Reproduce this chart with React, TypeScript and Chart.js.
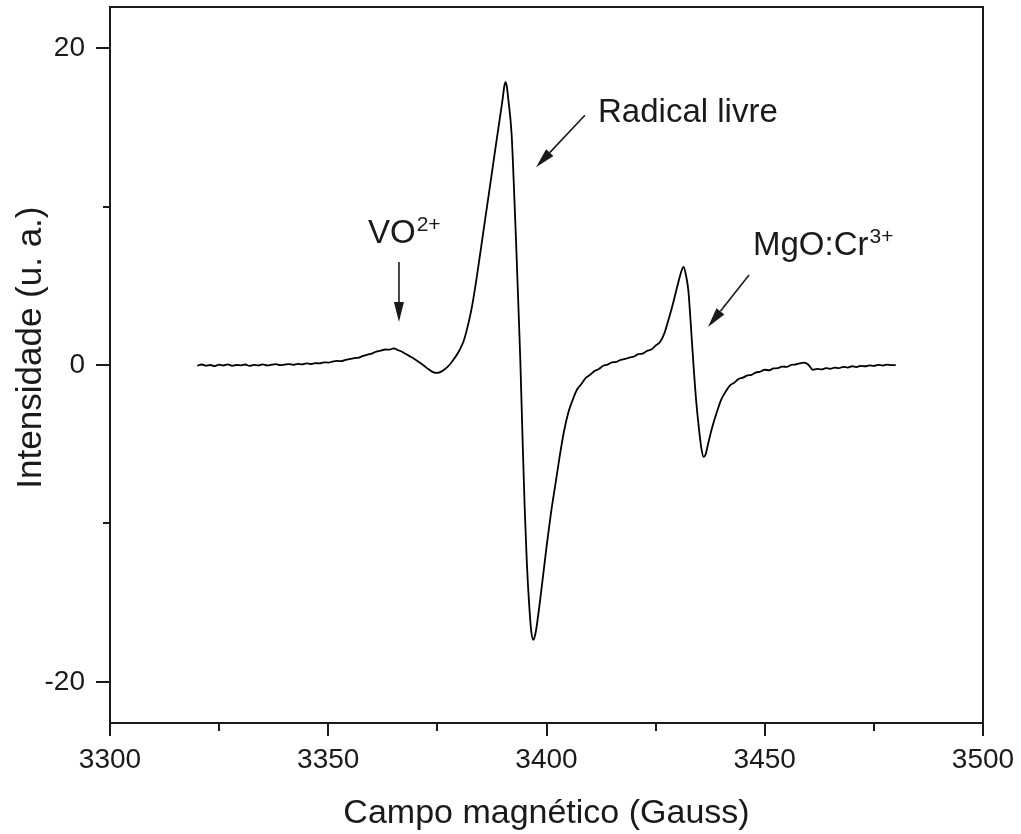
import React, { useEffect, useRef } from "react";
import { Chart, registerables } from "chart.js";

Chart.register(...registerables);

// Magnetic field (Gauss)
const fieldGauss: number[] = [
  3320, 3321, 3322, 3323, 3324, 3325, 3326, 3327, 3328, 3329,
  3330, 3331, 3332, 3333, 3334, 3335, 3336, 3337, 3338, 3339,
  3340, 3341, 3342, 3343, 3344, 3345, 3346, 3347, 3348, 3349,
  3350, 3351, 3352, 3353, 3354, 3355, 3356, 3357, 3358, 3359,
  3360, 3361, 3362, 3363, 3364, 3365, 3366, 3367, 3368, 3369,
  3370, 3371, 3372, 3373, 3374, 3375, 3376, 3377, 3378, 3379,
  3380, 3381, 3382, 3383, 3384, 3385, 3386, 3387, 3388, 3389,
  3390, 3390.3, 3390.6, 3390.9, 3391.2, 3392, 3392.5, 3393, 3393.5, 3394,
  3394.5, 3395, 3395.5, 3396, 3396.5, 3397, 3397.5, 3398, 3399, 3400,
  3401, 3402, 3403, 3404, 3405, 3406, 3407, 3408, 3409, 3410,
  3411, 3412, 3413, 3414, 3415, 3416, 3417, 3418, 3419, 3420,
  3421, 3422, 3423, 3424, 3425, 3426, 3427, 3428, 3429, 3430,
  3431, 3431.4, 3432, 3432.5, 3433, 3433.7, 3434.3, 3435, 3435.5, 3436,
  3436.5, 3437, 3438, 3439, 3440, 3441, 3442, 3443, 3444, 3445,
  3446, 3447, 3448, 3449, 3450, 3451, 3452, 3453, 3454, 3455,
  3456, 3457, 3458, 3459, 3460, 3461, 3462, 3463, 3464, 3465,
  3466, 3467, 3468, 3469, 3470, 3471, 3472, 3473, 3474, 3475,
  3476, 3477, 3478, 3479, 3480,
];

// Intensity (u. a.)
const intensity: number[] = [
  -0.05, 0.03, -0.04, 0.0, -0.07, 0.02, -0.03, 0.04, -0.05, 0.0,
  -0.02, 0.03, -0.06, 0.01, -0.02, 0.04, -0.03, 0.02, 0.05, -0.01,
  0.03, 0.06, 0.01, 0.07, 0.04, 0.1, 0.06, 0.12, 0.1, 0.17,
  0.15, 0.22, 0.26, 0.24, 0.33, 0.38, 0.44, 0.47, 0.58, 0.66,
  0.72, 0.85, 0.9, 0.98, 0.97, 1.05, 0.94, 0.82, 0.66, 0.5,
  0.33, 0.14, -0.06, -0.27, -0.45, -0.5, -0.4, -0.2, 0.08, 0.45,
  0.9, 1.5, 2.5, 3.8, 5.5, 7.4, 9.3, 11.2, 13.1, 15.0,
  16.9, 17.55, 17.85, 17.6, 16.9, 14.6, 11.5, 8.0, 4.2, 0.3,
  -4.5, -9.0, -12.5, -15.0, -16.8, -17.35, -16.9, -16.0, -13.8, -11.5,
  -9.4, -7.6, -5.8, -4.2, -3.0, -2.2, -1.55, -1.2, -0.82, -0.62,
  -0.38, -0.25, -0.05, 0.02, 0.17, 0.2, 0.33, 0.38, 0.47, 0.53,
  0.68, 0.72, 0.88, 0.98, 1.22, 1.45, 2.0, 2.9, 3.9, 5.0,
  6.0, 6.2, 5.6, 4.7, 2.8, -0.1, -2.3, -4.2, -5.3, -5.8,
  -5.6, -5.0, -3.9, -3.0, -2.2, -1.7, -1.3, -1.12, -0.88, -0.8,
  -0.66, -0.62, -0.47, -0.42, -0.3, -0.33, -0.22, -0.2, -0.1, -0.12,
  0.0, 0.03, 0.1, 0.15, 0.02, -0.3, -0.25, -0.28, -0.2, -0.24,
  -0.17, -0.2, -0.12, -0.16, -0.08, -0.13, -0.05, -0.08, -0.02, -0.06,
  0.01, -0.03, 0.02, -0.01, 0.0,
];

const xMajorTicks: number[] = [3300, 3350, 3400, 3450, 3500];
const xMinorTicks: number[] = [3325, 3375, 3425, 3475];
const yMajorTicks: number[] = [-20, 0, 20];
const yMinorTicks: number[] = [-10, 10];

const xAxisTitle = "Campo magnético (Gauss)";
const yAxisTitle = "Intensidade (u. a.)";
// y-axis title centre, in data units along the axis
const yTitleCenterValue = 1.1;

// Annotations: label text, superscript, label anchor (data coords), arrow tail -> tip (data coords)
const annotationLabels: string[] = ["VO", "Radical livre", "MgO:Cr"];
const annotationSups: string[] = ["2+", "", "3+"];
const annotationTextX: number[] = [3359.1, 3411.8, 3447.3];
const annotationTextY: number[] = [7.7, 15.33, 6.94];
const arrowTailX: number[] = [3366.2, 3408.8, 3446.4];
const arrowTailY: number[] = [6.5, 15.77, 5.68];
const arrowTipX: number[] = [3366.2, 3397.6, 3437.0];
const arrowTipY: number[] = [2.71, 12.49, 2.4];

const FONT = "'Liberation Sans', Arial, Helvetica, sans-serif";
const INK = "#1a1a1a";

const decorPlugin = {
  id: "decor",
  afterDraw(chart: any) {
    const { ctx, chartArea: a, scales } = chart;
    const xs = scales.x;
    const ys = scales.y;
    ctx.save();
    // frame top & right
    ctx.strokeStyle = INK;
    ctx.lineWidth = 2;
    ctx.beginPath();
    ctx.moveTo(a.left, a.top);
    ctx.lineTo(a.right, a.top);
    ctx.lineTo(a.right, a.bottom);
    ctx.stroke();
    // minor ticks
    ctx.beginPath();
    xMinorTicks.forEach((v) => {
      const px = Math.round(xs.getPixelForValue(v));
      ctx.moveTo(px, a.bottom);
      ctx.lineTo(px, a.bottom + 8);
    });
    yMinorTicks.forEach((v) => {
      const py = Math.round(ys.getPixelForValue(v));
      ctx.moveTo(a.left, py);
      ctx.lineTo(a.left - 7, py);
    });
    ctx.stroke();

    // y axis title
    ctx.save();
    ctx.translate(31, ys.getPixelForValue(yTitleCenterValue));
    ctx.rotate(-Math.PI / 2);
    ctx.font = `35px ${FONT}`;
    ctx.fillStyle = INK;
    ctx.textAlign = "center";
    ctx.textBaseline = "middle";
    ctx.fillText(yAxisTitle, 0, 0);
    ctx.restore();

    // annotations
    ctx.fillStyle = INK;
    ctx.textBaseline = "alphabetic";
    ctx.textAlign = "left";
    annotationLabels.forEach((label, i) => {
      const tx = xs.getPixelForValue(annotationTextX[i]);
      const ty = ys.getPixelForValue(annotationTextY[i]);
      ctx.font = `33px ${FONT}`;
      ctx.fillText(label, tx, ty);
      const w = ctx.measureText(label).width;
      if (annotationSups[i]) {
        ctx.font = `21px ${FONT}`;
        ctx.fillText(annotationSups[i], tx + w + 1, ty - 12);
      }
      // arrow
      const x0 = xs.getPixelForValue(arrowTailX[i]);
      const y0 = ys.getPixelForValue(arrowTailY[i]);
      const x1 = xs.getPixelForValue(arrowTipX[i]);
      const y1 = ys.getPixelForValue(arrowTipY[i]);
      const ang = Math.atan2(y1 - y0, x1 - x0);
      const headLen = 20;
      const headHalf = 5;
      const bx = x1 - headLen * Math.cos(ang);
      const by = y1 - headLen * Math.sin(ang);
      ctx.strokeStyle = INK;
      ctx.lineWidth = 1.6;
      ctx.beginPath();
      ctx.moveTo(x0, y0);
      ctx.lineTo(bx, by);
      ctx.stroke();
      ctx.beginPath();
      ctx.moveTo(x1, y1);
      ctx.lineTo(bx + headHalf * Math.sin(ang), by - headHalf * Math.cos(ang));
      ctx.lineTo(bx - headHalf * Math.sin(ang), by + headHalf * Math.cos(ang));
      ctx.closePath();
      ctx.fill();
    });
    ctx.restore();
  },
};

export default function App() {
  const canvasRef = useRef<HTMLCanvasElement | null>(null);

  useEffect(() => {
    if (!canvasRef.current) return;
    const points = fieldGauss.map((g, i) => ({ x: g, y: intensity[i] }));
    const chart = new Chart(canvasRef.current, {
      type: "line",
      data: {
        datasets: [
          {
            data: points,
            borderColor: "#000",
            borderWidth: 1.8,
            pointRadius: 0,
            cubicInterpolationMode: "monotone",
            fill: false,
          },
        ],
      },
      options: {
        responsive: false,
        animation: false,
        events: [],
        layout: { padding: { left: 0, right: 38, top: 7, bottom: 0 } },
        plugins: {
          legend: { display: false },
          tooltip: { enabled: false },
          title: { display: false },
        },
        scales: {
          x: {
            type: "linear",
            min: 3300,
            max: 3500,
            afterBuildTicks: (scale: any) => {
              scale.ticks = xMajorTicks.map((v) => ({ value: v }));
            },
            afterFit: (scale: any) => {
              scale.height = 111;
              scale.paddingLeft = 0;
              scale.paddingRight = 0;
            },
            ticks: {
              color: INK,
              font: { family: FONT, size: 28 },
              padding: 7,
              maxRotation: 0,
              autoSkip: false,
              callback: (v: any) => String(v),
            },
            grid: {
              drawOnChartArea: false,
              drawTicks: true,
              tickLength: 13,
              color: INK,
              lineWidth: 2,
            },
            border: { display: true, color: INK, width: 2 },
            title: {
              display: true,
              text: xAxisTitle,
              color: INK,
              font: { family: FONT, size: 34 },
              padding: { top: 0, bottom: 0 },
            },
          },
          y: {
            type: "linear",
            min: -22.6,
            max: 22.6,
            afterBuildTicks: (scale: any) => {
              scale.ticks = yMajorTicks.map((v) => ({ value: v }));
            },
            afterFit: (scale: any) => {
              scale.width = 110;
              scale.paddingTop = 0;
              scale.paddingBottom = 0;
            },
            ticks: {
              color: INK,
              font: { family: FONT, size: 28 },
              padding: 11,
              autoSkip: false,
              callback: (v: any) => String(v),
            },
            grid: {
              drawOnChartArea: false,
              drawTicks: true,
              tickLength: 14,
              color: INK,
              lineWidth: 2,
            },
            border: { display: true, color: INK, width: 2 },
            title: { display: false },
          },
        },
      },
      plugins: [decorPlugin],
    });
    return () => chart.destroy();
  }, []);

  return (
    <div style={{ position: "absolute", left: 0, top: 0, width: 1021, height: 834, background: "#fff" }}>
      <canvas ref={canvasRef} width={1021} height={834} style={{ display: "block" }} />
    </div>
  );
}
